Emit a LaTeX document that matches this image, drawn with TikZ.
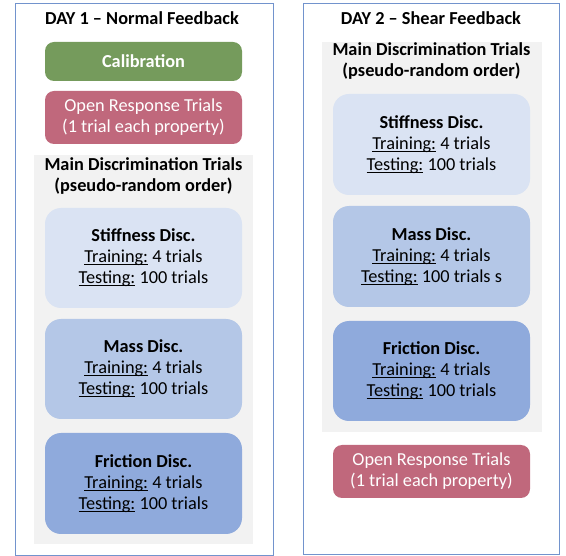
\documentclass[tikz,border=0pt]{standalone}
\usepackage{fontspec}
\setmainfont{Carlito}
\usepackage{xcolor}

% underline close under the baseline
\newcommand{\ulword}[1]{\leavevmode\setbox0\hbox{#1}\rlap{\copy0}\rule[-2.4pt]{\wd0}{0.9pt}}

\definecolor{calibgreen}{RGB}{117,155,92}
\definecolor{openpink}{RGB}{192,104,124}
\definecolor{stiffblue}{RGB}{218,227,243}
\definecolor{massblue}{RGB}{180,199,231}
\definecolor{fricblue}{RGB}{143,170,220}
\definecolor{trialgray}{RGB}{242,242,242}
\definecolor{framblue}{RGB}{114,147,205}

\begin{document}
\begin{tikzpicture}[x=1pt,y=-1pt,
    txt/.style={font=\fontsize{18.3}{21}\selectfont, align=center, inner sep=0pt},
    boldtxt/.style={txt, font=\fontsize{18.3}{21}\selectfont\bfseries},
    smallbox/.style={txt, rounded corners=9pt, minimum width=197pt, text=white},
    discbox/.style={txt, rounded corners=16pt, minimum width=197pt, minimum height=100pt},
    graybox/.style={fill=trialgray, inner sep=0pt},
    frame/.style={draw=framblue, line width=0.9pt, inner sep=0pt}]

  \useasboundingbox (0,0) rectangle (566,556);

  % Parameters
  \def\lx{143.5}
  \def\rx{431.5}

  % day frames
  \node[frame, minimum width=258pt, minimum height=552pt] (frame1) at (144,279) {};
  \node[frame, minimum width=256pt, minimum height=551pt] (frame2) at (431,278.5) {};

  % gray blocks
  \node[graybox, minimum width=219pt, minimum height=389pt] (gray1) at (143.5,349.5) {};
  \node[graybox, minimum width=220pt, minimum height=390pt] (gray2) at (432,237) {};

  % titles
  \node[boldtxt] (title1) at (142,18) {DAY 1 -- Normal Feedback};
  \node[boldtxt] (title2) at (431,18) {DAY 2 -- Shear Feedback};

  % day 1
  \node[smallbox, fill=calibgreen, minimum height=39pt, font=\fontsize{18.3}{21}\selectfont\bfseries] (calib) at (\lx,61.5) {Calibration};
  \node[smallbox, fill=openpink, minimum height=53pt] (open1) at (\lx,117.5) {Open Response Trials\\(1 trial each property)};
  \node[boldtxt] (main1) at (\lx,176.5) {Main Discrimination Trials\\(pseudo-random order)};

  \node[discbox, fill=stiffblue] (stiff1) at (\lx,258) {\textbf{Stiffness Disc.}\\\ulword{Training:} 4 trials\\\ulword{Testing:} 100 trials};
  \node[discbox, fill=massblue] (mass1) at (\lx,369) {\textbf{Mass Disc.}\\\ulword{Training:} 4 trials\\\ulword{Testing:} 100 trials};
  \node[discbox, fill=fricblue, minimum height=101pt] (fric1) at (\lx,483.5) {\textbf{Friction Disc.}\\\ulword{Training:} 4 trials\\\ulword{Testing:} 100 trials};

  % day 2
  \node[boldtxt] (main2) at (\rx,61.5) {Main Discrimination Trials\\(pseudo-random order)};

  \node[discbox, fill=stiffblue, minimum height=101pt] (stiff2) at (\rx,144.5) {\textbf{Stiffness Disc.}\\\ulword{Training:} 4 trials\\\ulword{Testing:} 100 trials};
  \node[discbox, fill=massblue, minimum height=101pt] (mass2) at (\rx,256.5) {\textbf{Mass Disc.}\\\ulword{Training:} 4 trials\\\ulword{Testing:} 100 trials s};
  \node[discbox, fill=fricblue] (fric2) at (\rx,371) {\textbf{Friction Disc.}\\\ulword{Training:} 4 trials\\\ulword{Testing:} 100 trials};

  \node[smallbox, fill=openpink, minimum height=53pt] (open2) at (\rx,471.5) {Open Response Trials\\(1 trial each property)};

\end{tikzpicture}
\end{document}
